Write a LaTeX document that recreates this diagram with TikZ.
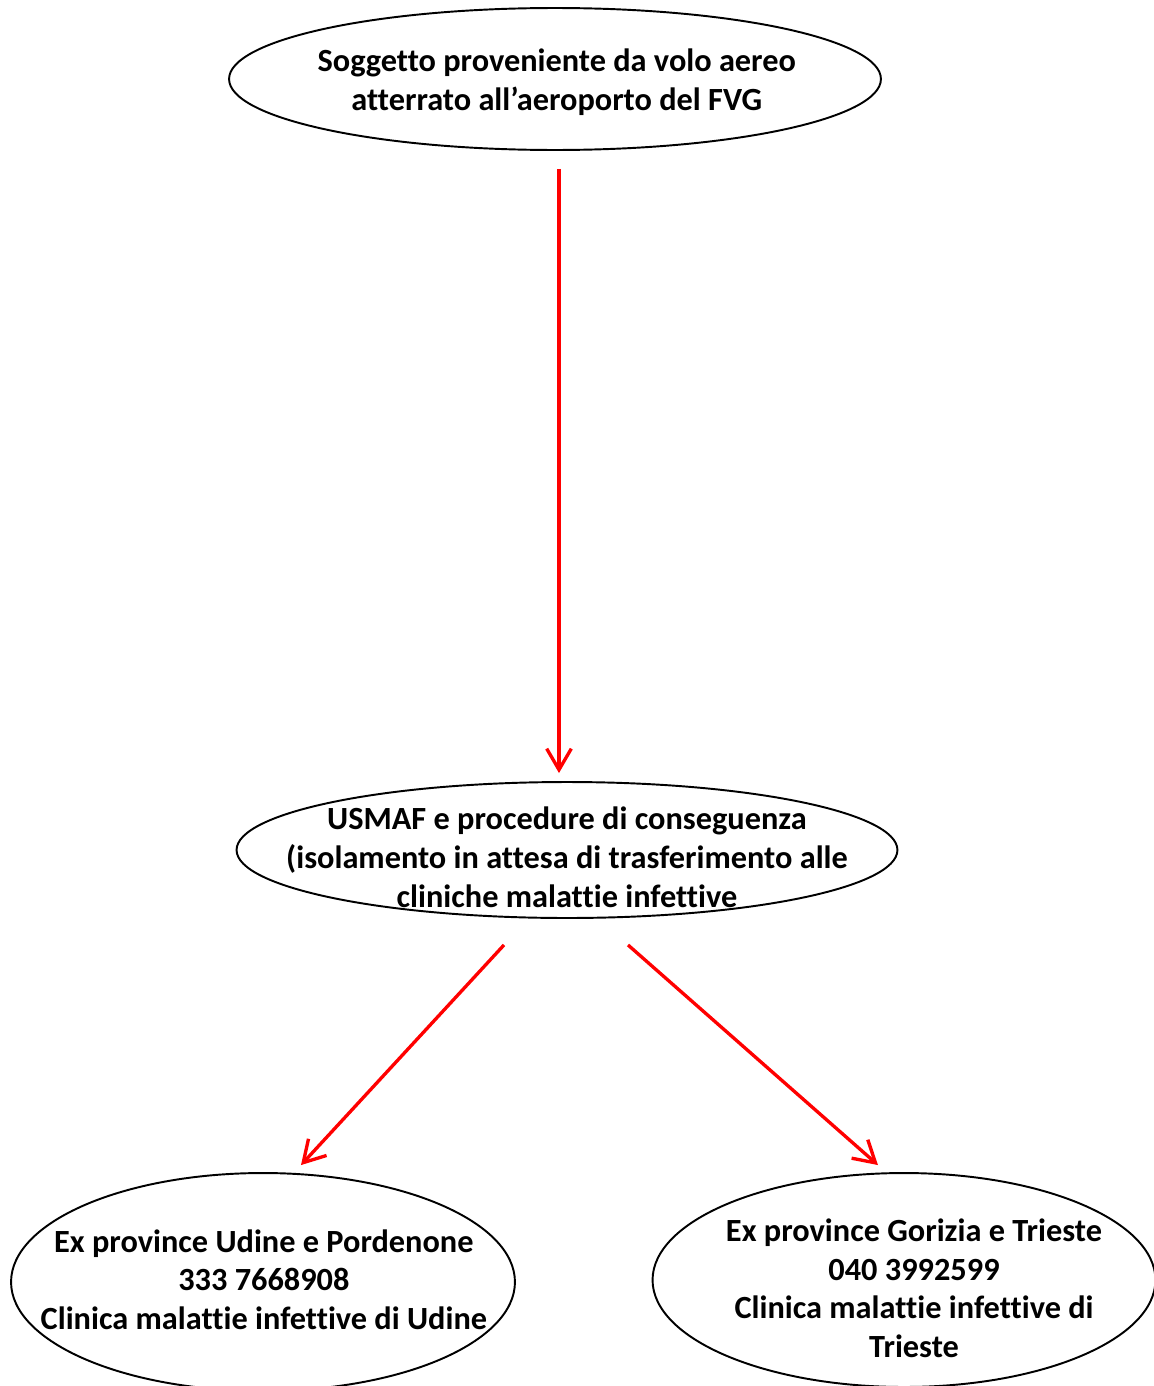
\documentclass[tikz,border=0pt]{standalone}
\usepackage{fontspec}
\setmainfont{Carlito}[Ligatures=NoCommon]
\usetikzlibrary{shapes.geometric,arrows.meta}

\newcommand{\ovaltext}[3][0pt]{\hspace*{#1}\raisebox{#2}{\smash{\makebox[0pt]{\begin{tabular}{@{}c@{}}#3\end{tabular}}}}}

\begin{document}
\begin{tikzpicture}[x=0.02cm, y=-0.02cm,
        oval/.style = {draw, ellipse, line width=1.1pt, inner sep=0pt, font=\fontsize{18.4}{22.1}\selectfont\bfseries},
        arr/.style = {-{Straight Barb[length=12pt, width=14pt]}, red, line width=1.9pt}]
    \useasboundingbox (0,0) rectangle (1153,1386);
    \node[oval, minimum width=13.04cm, minimum height=2.84cm] (volo) at (555,79)
        {\ovaltext[2pt]{-13pt}{Soggetto proveniente da volo aereo\\ atterrato all’aeroporto del FVG}};
    \node[oval, minimum width=13.22cm, minimum height=2.72cm] (usmaf) at (567,850)
        {\ovaltext{-21pt}{USMAF e procedure di conseguenza\\ (isolamento in attesa di trasferimento alle\\ cliniche malattie infettive}};
    \node[oval, minimum width=10.08cm, minimum height=4.36cm] (udine) at (263,1282)
        {\ovaltext[1pt]{-10pt}{Ex province Udine e Pordenone\\ 333 7668908\\ Clinica malattie infettive di Udine}};
    \node[oval, minimum width=10.06cm, minimum height=4.28cm] (trieste) at (904,1280)
        {\ovaltext[11.4pt]{-22pt}{Ex province Gorizia e Trieste\\ 040 3992599\\ Clinica malattie infettive di\\ Trieste}};
    % frecce
    \draw[arr] ([shift={(4,18)}]volo.south) -- ([shift={(-8,-8)}]usmaf.north);
    \draw[arr] ([shift={(-63,26)}]usmaf.south) -- ([shift={(38,-7)}]udine.north);
    \draw[arr] ([shift={(61,26)}]usmaf.south) -- ([shift={(-26,-7)}]trieste.north);
\end{tikzpicture}
\end{document}
